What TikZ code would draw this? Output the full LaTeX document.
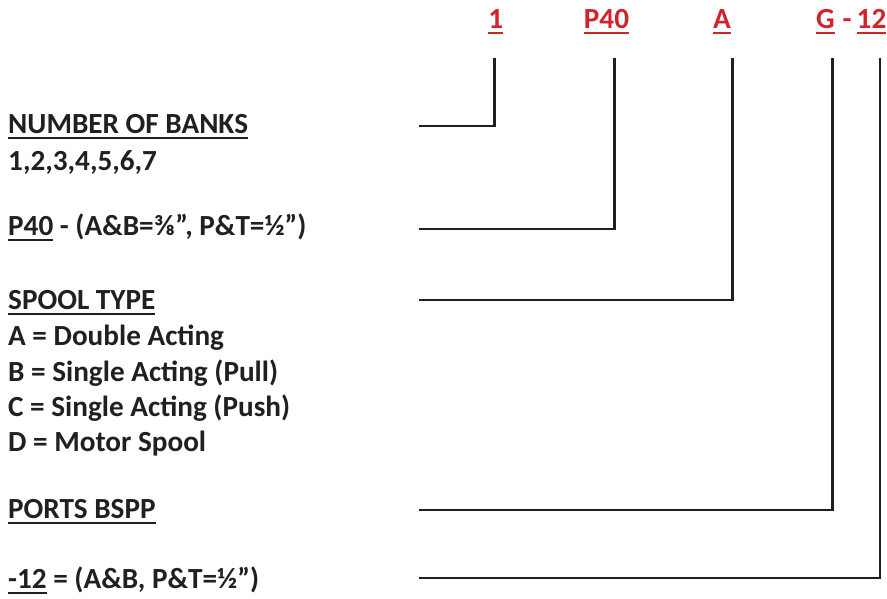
\documentclass[tikz,border=0pt]{standalone}
\usepackage{fontspec}
\setmainfont{Carlito}
\usepackage{xcolor}
\definecolor{codered}{HTML}{D2232A}
\definecolor{inkblack}{HTML}{231F20}
\usetikzlibrary{positioning}

% thick underline, as in the order code sheet
\newcommand{\undl}[1]{\setbox0\hbox{#1}\rlap{\rule[-6pt]{\wd0}{2.3pt}}\box0\relax}

\tikzset{
  codetag/.style={text=codered, anchor=base},
  rowlabel/.style={anchor=base west},
  leader/.style={draw=inkblack, line width=2.5pt}
}

\begin{document}
\begin{tikzpicture}[x=1pt, y=-1pt,
  every node/.style={font=\bfseries\fontsize{29.2}{34}\selectfont, text=inkblack, inner sep=0pt}]
  \useasboundingbox (0,0) rectangle (887,598);

  % Order code
  \node[codetag] (cone)    at (495.7,28) {\undl{1}};
  \node[codetag] (cpforty) at (606.5,28) {\undl{P40}};
  \node[codetag] (ca)      at (722,28)   {\undl{A}};
  \node[codetag] (cg)      at (825.5,28) {\undl{G}};
  \node[codetag] (cdash)   at (847,28)   {-};
  \node[codetag] (ctwelve) at (871.5,28) {\undl{12}};

  % Descriptions
  \node[rowlabel] (banks)    at (8,133) {\undl{NUMBER OF BANKS}};
  \node[rowlabel] (bankvals) at (8,170) {1,2,3,4,5,6,7};
  \node[rowlabel] (pforty)   at (8,235) {\undl{P40} - (A\&B=⅜”, P\&T=½”)};
  \node[rowlabel] (spool)    at (8,309) {\undl{SPOOL TYPE}};
  \node[rowlabel] (spa)      at (8,345) {A = Double Acting};
  \node[rowlabel] (spb)      at (8,381) {B = Single Acting (Pull)};
  \node[rowlabel] (spc)      at (8,416) {C = Single Acting (Push)};
  \node[rowlabel] (spd)      at (8,451) {D = Motor Spool};
  \node[rowlabel] (ports)    at (8,518) {\undl{PORTS BSPP}};
  \node[rowlabel] (size)     at (8,588) {\undl{-12} = (A\&B, P\&T=½”)};

  % Leader ends
  \coordinate (ebanks)  at (419.3,126);
  \coordinate (epforty) at (419.3,229);
  \coordinate (espool)  at (419.3,300);
  \coordinate (eports)  at (419.3,510);
  \coordinate (esize)   at (419.3,578);

  \draw[leader] (cone.south)    ++(-1.4,23.3) |- (ebanks);
  \draw[leader] (cpforty.south) ++(7.8,23.3)  |- (epforty);
  \draw[leader] (ca.south)      ++(10.7,23.3) |- (espool);
  \draw[leader] (cg.south)      ++(7.2,23.3)  |- (eports);
  \draw[leader] (ctwelve.south) ++(8.5,23.3)  |- (esize);
\end{tikzpicture}
\end{document}
